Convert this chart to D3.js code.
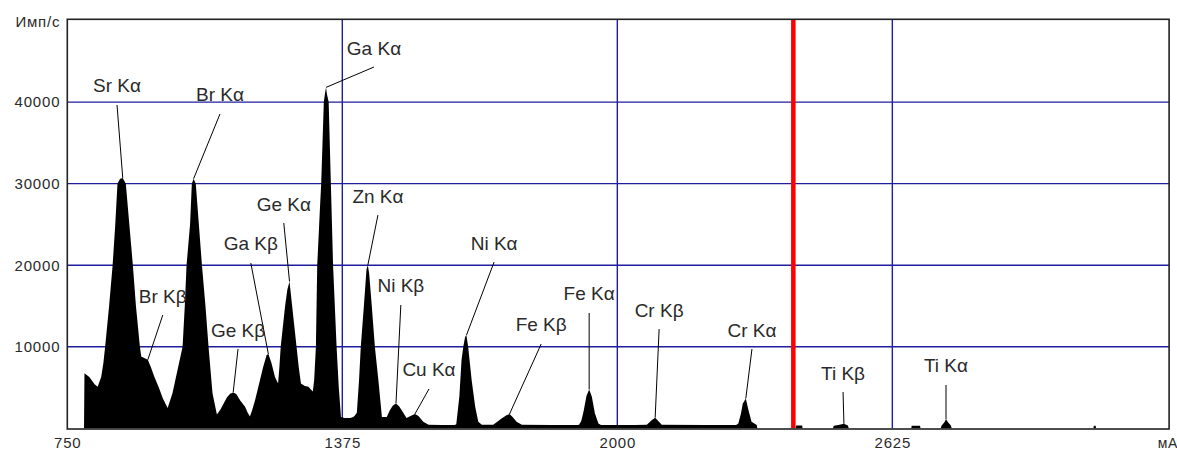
<!DOCTYPE html>
<html>
<head>
<meta charset="utf-8">
<script src="https://cdn.jsdelivr.net/npm/d3@7"></script>
<style>
  body { margin: 0; background: #fff; }
  text { font-family: "Liberation Sans", Arial, sans-serif; fill: #2a2a2a; }
</style>
</head>
<body>
<div id="chart"></div>
<script>
// Spectrum: channel (x) and counts (y)
var channel = [788, 789, 800, 812, 819, 827, 832, 836, 845, 853, 859, 864, 870, 876, 883, 891, 899, 906, 915, 918, 933, 940, 948, 958, 967, 978,
  989, 1012, 1017, 1021, 1029, 1033, 1037, 1042, 1049, 1056, 1064, 1071, 1080, 1090,
  1098, 1105, 1113, 1120, 1127, 1134, 1143, 1154, 1160, 1165,
  1170, 1177, 1186, 1195, 1203, 1207, 1214, 1222, 1229,
  1232, 1235, 1245, 1250, 1255, 1261, 1271, 1276, 1281, 1290, 1298, 1303, 1308,
  1311, 1315, 1318, 1324, 1327, 1330, 1333, 1336, 1338, 1340, 1344, 1349, 1354, 1362, 1367, 1372,
  1380, 1393, 1400,
  1404, 1408, 1413, 1417, 1424, 1430, 1433, 1436, 1442, 1449, 1457, 1465,
  1476, 1483, 1490, 1497, 1504, 1510, 1521, 1530, 1540, 1548, 1559, 1571,
  1600, 1630,
  1634, 1641, 1646, 1650, 1654, 1657, 1661, 1669, 1677, 1684, 1692,
  1718, 1737, 1748, 1755, 1762, 1771, 1783,
  1850, 1910,
  1913, 1918, 1923, 1930, 1936, 1942, 1949, 1957, 1963,
  2040, 2067, 2078, 2086, 2093, 2101,
  2200, 2270, 2275, 2281, 2285, 2292, 2298, 2305, 2317, 2318,
  2405, 2406, 2420, 2421,
  2490, 2492, 2505, 2515, 2524, 2526,
  2668, 2669, 2688, 2689,
  2735, 2737, 2743, 2747, 2752, 2758, 2760,
  3082, 3083, 3087, 3088];
var counts = [0, 6750, 6300, 5400, 5100, 6300, 8000, 10000, 15000, 20000, 25000, 30000, 30600, 30700, 30000, 25000, 20000, 15000, 10000, 8800, 8400, 7500, 6300, 5000, 3700, 2500,
  4300, 10000, 15000, 20000, 25000, 30000, 30600, 30000, 25000, 20000, 15000, 10000, 4300, 1700,
  2300, 3000, 3800, 4250, 4400, 4200, 3400, 2650, 1900, 1450,
  2200, 3500, 5500, 7500, 9000, 9100, 8000, 6300, 5500,
  7500, 10000, 15000, 17000, 18000, 15000, 10000, 7500, 5500, 5200, 5100, 4800, 4500,
  5900, 10000, 20000, 26800, 30000, 35000, 40000, 41200, 41800, 41000, 40000, 30000, 20000, 10000, 5000, 1400,
  1250, 1250, 1400,
  1600, 1900, 5900, 10000, 15000, 19500, 20000, 19000, 15000, 10000, 5900, 1400,
  1400, 2200, 2800, 3050, 2700, 2200, 1250, 1500, 1750, 1500, 800, 450,
  400, 400,
  500, 3900, 8400, 10000, 11200, 11400, 10000, 5900, 2650, 800, 450,
  450, 1200, 1600, 1750, 1400, 800, 450,
  400, 400,
  450, 900, 2000, 4000, 4750, 3900, 1850, 600, 420,
  400, 450, 1000, 1300, 900, 450,
  400, 400, 600, 1800, 3000, 3650, 2250, 800, 400, 0,
  0, 350, 350, 0,
  0, 300, 450, 550, 350, 0,
  0, 300, 300, 0,
  0, 350, 700, 1100, 700, 350, 0,
  0, 300, 300, 0];

// Line labels: name, where the leader starts, which channel it points at
var lineNames = ["Sr K\u03b1", "Br K\u03b1", "Ga K\u03b1", "Ge K\u03b1", "Ga K\u03b2", "Br K\u03b2", "Ge K\u03b2", "Zn K\u03b1",
  "Ni K\u03b2", "Cu K\u03b1", "Ni K\u03b1", "Fe K\u03b2", "Fe K\u03b1", "Cr K\u03b2", "Cr K\u03b1", "Ti K\u03b2", "Ti K\u03b1"];
var labelChannel = [863, 1097, 1447, 1242, 1167, 967, 1138, 1456, 1508, 1572, 1720, 1827, 1936, 2095, 2306, 2513, 2747];
var labelCounts = [39650, 38540, 44300, 25170, 20270, 13890, 9720, 26150, 15120, 4820, 20390, 10340, 14140, 12170, 9720, 4450, 5310];
var peakChannel = [876, 1037, 1338, 1255, 1207, 933, 1127, 1433, 1497, 1540, 1657, 1755, 1936, 2086, 2292, 2515, 2747];

var xTicks = [750, 1375, 2000, 2625];
var xGrid = [1375, 2000, 2625];
var yTicks = [10000, 20000, 30000, 40000];
var markerChannel = 2400;

var w = 1177;
var h = 451;

var x = d3.scaleLinear().domain([750, 3254]).range([67.3, 1169.1]);
var y = d3.scaleLinear().domain([0, 50150]).range([428.3, 19.3]);

var svg = d3.select("#chart")
            .append("svg")
            .attr("width", w)
            .attr("height", h);

var spectrum = channel.map(function(c, i) { return {ch: c, n: counts[i]}; });

// grid
svg.selectAll("line.hgrid")
   .data(yTicks)
   .enter()
   .append("line")
   .attr("class", "hgrid")
   .attr("x1", x(750)).attr("x2", x(3254))
   .attr("y1", function(d) { return y(d); })
   .attr("y2", function(d) { return y(d); })
   .style("stroke", "#1e1e9e")
   .style("stroke-width", 1.4);

svg.selectAll("line.vgrid")
   .data(xGrid)
   .enter()
   .append("line")
   .attr("class", "vgrid")
   .attr("x1", function(d) { return x(d); })
   .attr("x2", function(d) { return x(d); })
   .attr("y1", y(50150)).attr("y2", y(0))
   .style("stroke", "#1e1e9e")
   .style("stroke-width", 1.4);

// spectrum
var area = d3.area()
             .x(function(d) { return x(d.ch); })
             .y0(y(0))
             .y1(function(d) { return y(d.n); });

svg.append("path")
   .datum(spectrum)
   .attr("d", area)
   .style("fill", "#000");

// red marker
svg.append("line")
   .attr("x1", x(markerChannel)).attr("x2", x(markerChannel))
   .attr("y1", y(50150)).attr("y2", y(0))
   .style("stroke", "#ff0000")
   .style("stroke-width", 4.5);

// frame
svg.append("rect")
   .attr("x", x(750)).attr("y", y(50150))
   .attr("width", x(3254) - x(750))
   .attr("height", y(0) - y(50150) + 0.7)
   .style("fill", "none")
   .style("stroke", "#222")
   .style("stroke-width", 1.6);

// axes
var xAxis = d3.axisBottom(x).tickValues(xTicks).tickSize(0).tickPadding(9).tickFormat(d3.format("d"));
var gx = svg.append("g").attr("transform", "translate(0," + y(0) + ")").call(xAxis);
gx.select(".domain").remove();
gx.selectAll("text").style("font-size", "15px").style("letter-spacing", "0.8px").style("fill", "#2a2a2a");

var yAxis = d3.axisLeft(y).tickValues(yTicks).tickSize(0).tickPadding(7).tickFormat(d3.format("d"));
var gy = svg.append("g").attr("transform", "translate(" + x(750) + ",0)").call(yAxis);
gy.select(".domain").remove();
gy.selectAll("text").style("font-size", "15px").style("letter-spacing", "0.8px").style("fill", "#2a2a2a");

svg.append("text")
   .attr("x", x(750) - 7)
   .attr("y", 27)
   .attr("text-anchor", "end")
   .style("font-size", "15px")
   .style("letter-spacing", "0.8px")
   .text("Имп/с");

svg.append("text")
   .attr("x", w + 1)
   .attr("y", 448)
   .attr("text-anchor", "end")
   .style("font-size", "14px")
   .style("letter-spacing", "0.6px")
   .text("мА");

// leaders and labels
function countAt(c) {
    var i = d3.bisector(function(d) { return d.ch; }).left(spectrum, c);
    if (i <= 0) return spectrum[0].n;
    if (i >= spectrum.length) return 0;
    var a = spectrum[i - 1], b = spectrum[i];
    if (b.ch === c) return b.n;
    return a.n + (b.n - a.n) * (c - a.ch) / (b.ch - a.ch);
}

var labels = lineNames.map(function(name, i) {
    return {name: name, lc: labelChannel[i], ln: labelCounts[i], pc: peakChannel[i]};
});

svg.selectAll("line.leader")
   .data(labels)
   .enter()
   .append("line")
   .attr("class", "leader")
   .attr("x1", function(d) { return x(d.lc); })
   .attr("y1", function(d) { return y(d.ln); })
   .attr("x2", function(d) { return x(d.pc); })
   .attr("y2", function(d) { return y(countAt(d.pc)); })
   .style("stroke", "#000")
   .style("stroke-width", 1);

svg.selectAll("text.lbl")
   .data(labels)
   .enter()
   .append("text")
   .attr("class", "lbl")
   .attr("x", function(d) { return x(d.lc); })
   .attr("y", function(d) { return y(d.ln) - 12.5; })
   .attr("text-anchor", "middle")
   .style("font-size", "19px")
   .text(function(d) { return d.name; });
</script>
</body>
</html>
